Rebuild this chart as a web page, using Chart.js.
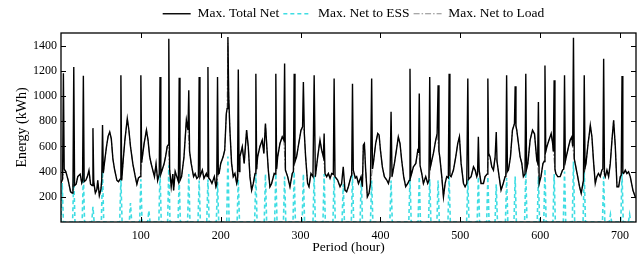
<!DOCTYPE html>
<html><head><meta charset="utf-8">
<script src="https://cdn.jsdelivr.net/npm/chart.js@4"></script>
<style>html,body{margin:0;padding:0;background:#fff}</style>
</head><body>
<canvas id="c" width="644" height="255" style="width:644px;height:255px;display:block"></canvas>
<script>
const seriesNames=['Max. Total Net','Max. Net to ESS','Max. Net to Load'];
const xTicks=[100,200,300,400,500,600,700];
const yTicks=[200,400,600,800,1000,1200,1400];

const totalHours=[0,2,3,4,6,9,12,14,15,16,17,19,21,24,26,27,28,29,31,33,35,37,39,40,41,43,45,46,48,50,51,52,53,55,57,59,61,63,65,67,70,72,74,75,76,78,80,83,85,87,90,93,95,97,99,100,101,102,104,107,109,111,113,115,117,119,121,123,124,125,127,129,131,133,134,135,136,138,140,141,143,145,147,148,149,151,154,157,159,160,161,163,166,168,170,172,173,174,177,179,182,183,184,185,187,189,192,194,195,196,197,198,200,203,205,207,208,209,210,211.5,213.6,215.7,217.8,220,221,222,223,224,227,229.4,232.4,234.5,236.6,238.7,240.8,243,244,245,246.2,249,252,254,256,258,259.6,261.6,263.7,267,268,269,270,271.3,274.2,277,279,280,281,283.8,286.7,289.6,291,292,293,295,297,300.5,302.5,303.5,304.7,306.3,308.8,310.5,313,315.5,317,318.5,321.4,324.3,326.4,328.5,329.5,330.6,332.7,334.8,336.9,339,341,342,343.1,346.4,349.4,351.4,353.4,355.6,357.7,359.8,363.1,364,365,366,368.5,370.2,372.5,375.7,377.4,378.6,379.9,381.5,383.6,385.7,387.5,389,390,391.1,394,396.6,398.3,400,402.4,404.9,407.9,410,412,413.3,414.5,417.5,420,422.4,424.5,426.6,429.1,431.6,434.2,436,437,438,441.3,444.3,446.8,447.8,448.6,449.6,451.7,453.8,456.7,459.2,460.7,461.7,462.7,466.3,469.2,471,472.2,473.3,474.3,476.8,478.9,481,483,485,486,487,488.5,491.4,494.3,496.8,498.9,501,504,506,508.1,509.4,510.5,513.5,516.5,518.6,520.6,521.6,522.6,523.6,526,529,531,533.5,534.5,535.5,537.3,539.4,541.5,543.6,545,546,548.6,551,553.7,556.1,557,558,559,560.3,562.8,565.3,567.8,568.7,569.7,570.7,572.8,574.9,577,579,581,582,583,584.6,587.4,590.4,592.9,595.8,596.8,597.8,598.8,601,603.5,605,606,607,608.4,611,613.8,615.6,616.5,617.5,618.5,619.6,622,625,628,629.5,630.5,631.5,632.7,635.5,637.6,639.7,640.7,641.7,642.7,643.8,647,649.3,651.4,653.5,654.2,655.2,656.2,657.4,660,661.6,662.8,664.8,667,669,671,673,675.2,677.3,678.5,679.5,680.5,681.5,683.6,685.7,687.8,689.9,692,694.1,696.2,698.3,700.4,701.5,702.5,703.5,704.5,706.6,708.6,710.7,712.8,716.1,719,720];
const totalValues=[310,340,1180,420,400,330,240,230,300,1230,290,300,360,380,310,330,1160,320,330,360,410,300,290,745,320,230,260,330,210,260,330,770,390,500,600,680,715,660,500,420,330,320,340,1165,330,500,650,820,730,600,460,360,300,350,360,1165,470,520,620,730,650,520,460,410,360,460,330,380,1150,380,420,460,520,600,610,1455,420,280,380,250,400,360,320,1145,330,360,517,808,729,1045,560,465,360,385,346,360,1150,360,412,346,385,360,1230,350,333,306,360,280,300,1150,380,385,465,517,570,860,900,1468,1000,729,465,360,385,306,330,1210,400,517,597,465,729,597,360,253,306,385,1177,420,517,597,650,544,781,570,412,280,306,385,380,1177,420,517,623,676,650,1257,412,360,280,385,400,1177,480,517,597,729,755,1111,702,517,306,280,385,360,1164,360,517,650,570,518,702,385,360,385,346,385,380,1138,360,333,280,306,438,253,240,280,360,370,1098,412,350,360,306,360,280,610,623,412,200,227,306,1138,420,465,623,702,690,570,438,360,333,306,360,874,360,465,570,676,623,490,360,280,306,330,1217,360,438,465,570,560,1019,450,385,306,360,306,330,1151,440,544,650,702,1085,560,517,360,200,306,360,350,1177,370,360,412,517,623,676,465,306,280,306,1138,340,360,438,412,360,380,676,412,306,306,360,380,1138,544,517,438,412,517,715,480,360,253,306,360,370,1164,400,412,517,729,781,1077,760,729,623,517,465,360,380,1177,420,465,650,729,700,490,470,953,306,360,465,480,1243,560,597,650,702,623,560,1125,420,385,360,360,412,420,1164,480,517,597,650,676,600,1463,500,465,360,280,227,306,330,1164,430,465,623,702,768,676,465,306,360,385,360,412,420,1296,380,360,412,360,465,650,808,597,280,280,360,370,1159,390,385,412,385,398,360,253,200,190];

const loadHours=[0,2,4,6,9,12,14,15,17,19,21,24,26,27,29,31,33,35,37,39,41,43,45,46,48,50,51,53,55,57,59,61,63,65,67,70,72,74,76,78,80,83,85,87,90,93,95,97,99,101,102,104,107,109,111,113,115,117,119,121,123,125,127,129,131,133,134,136,138,140,141,143,145,147,149,151,154,157,159,161,163,166,168,170,172,174,177,179,182,183,185,187,189,192,194,195,197,198,200,203,205,207,208,209,210,211.5,213.6,215.7,217.8,220,221,223,224,227,229.4,232.4,234.5,236.6,238.7,240.8,243,245,246.2,249,252,254,256,258,259.6,261.6,263.7,267,268,270,271.3,274.2,277,279,281,283.8,286.7,289.6,291,293,295,297,300.5,302.5,304.7,306.3,308.8,310.5,313,315.5,318.5,321.4,324.3,326.4,328.5,330.6,332.7,334.8,336.9,339,341,343.1,346.4,349.4,351.4,353.4,355.6,357.7,359.8,363.1,364,366,368.5,370.2,372.5,375.7,377.4,378.6,379.9,381.5,383.6,385.7,387.5,390,391.1,394,396.6,398.3,400,402.4,404.9,407.9,410,412,414.5,417.5,420,422.4,424.5,426.6,429.1,431.6,434.2,436,438,441.3,444.3,446.8,447.8,449.6,451.7,453.8,456.7,459.2,460.7,462.7,466.3,469.2,471,473.3,474.3,476.8,478.9,481,483,485,487,488.5,491.4,494.3,496.8,498.9,501,504,506,508.1,510.5,513.5,516.5,518.6,520.6,521.6,523.6,526,529,531,533.5,535.5,537.3,539.4,541.5,543.6,546,548.6,551,553.7,556.1,557,559,560.3,562.8,565.3,567.8,569.7,570.7,572.8,574.9,577,579,581,583,584.6,587.4,590.4,592.9,595.8,596.8,598.8,601,603.5,605,607,608.4,611,613.8,615.6,616.5,618.5,619.6,622,625,628,629.5,631.5,632.7,635.5,637.6,639.7,640.7,642.7,643.8,647,649.3,651.4,653.5,654.2,656.2,657.4,660,661.6,662.8,664.8,667,669,671,673,675.2,677.3,678.5,680.5,681.5,683.6,685.7,687.8,689.9,692,694.1,696.2,698.3,700.4,701.5,703.5,704.5,706.6,708.6,710.7,712.8,716.1,719,720];
const loadValues=[310,340,420,400,330,240,230,300,290,300,360,380,310,330,320,330,360,410,300,290,320,230,260,330,210,260,330,390,500,600,680,715,660,500,420,330,320,340,330,500,650,820,730,600,460,360,300,350,360,470,520,620,730,650,520,460,410,360,460,330,380,380,420,460,520,600,610,420,280,380,250,400,360,320,330,360,517,808,729,560,465,360,385,346,360,360,412,346,385,360,350,333,306,360,280,300,380,385,465,517,570,860,900,1420,1000,729,465,360,385,306,330,400,517,597,465,729,597,360,253,306,385,420,517,597,650,544,781,570,412,280,306,385,380,420,517,623,676,650,412,360,280,385,400,480,517,597,729,755,702,517,306,280,385,360,360,517,650,570,518,385,360,385,346,385,380,360,333,280,306,300,253,240,280,360,370,412,350,360,306,360,280,610,623,412,200,227,306,420,465,623,702,690,570,438,360,333,306,360,360,465,570,676,623,490,360,280,306,330,360,438,465,570,560,450,385,306,360,306,330,440,544,650,702,560,517,360,200,306,360,350,370,360,412,517,623,676,465,306,280,306,340,360,438,412,360,380,412,306,306,360,380,544,517,438,412,517,480,360,253,306,360,370,400,412,517,729,781,760,729,623,517,465,360,380,420,465,650,729,700,490,470,306,360,465,480,560,597,650,702,623,560,420,385,360,360,412,420,480,517,597,650,676,600,500,465,360,280,227,306,330,430,465,623,702,768,676,465,306,360,385,360,412,420,380,360,412,360,465,650,808,597,280,280,360,370,390,385,412,385,398,360,253,200,190];

const essHours=[0,1.5,3,4.5,14.5,16,17.5,26.5,28,29.5,38.5,40,41.5,50.5,52,53.5,73.5,75,76.5,85.5,87,88.5,98.5,100,101.5,108.5,110,111.5,122.5,124,125.5,133.5,135,136.5,146.5,148,149.5,158.5,160,161.5,171.5,173,174.5,182.5,184,185.5,194.5,196,197.5,207.5,209,210.5,220.5,222,223.5,242.5,244,245.5,254.5,256,257.5,267.5,269,270.5,278.5,280,281.5,290.5,292,293.5,302,303.5,305,315.5,317,318.5,328,329.5,331,340.5,342,343.5,351.9,353.4,354.9,363.5,365,366.5,374.5,376,377.5,387.5,389,390.5,411.8,413.3,414.8,435.5,437,438.5,447.1,448.6,450.1,460.2,461.7,463.2,470.7,472.2,473.7,484.5,486,487.5,507.9,509.4,510.9,521.1,522.6,524.1,533,534.5,536,543.5,545,546.5,556.5,558,559.5,567.2,568.7,570.2,580.5,582,583.5,596.3,597.8,599.3,604.5,606,607.5,616,617.5,619,629,630.5,632,640.2,641.7,643.2,653.7,655.2,656.7,678,679.5,681,686.5,688,689.5,701,702.5,704,710.5,712,713.5,720];
const essValues=[0,310,0,0,0,360,0,0,385,0,0,120,0,0,400,0,0,340,0,0,150,0,0,340,0,0,90,0,0,400,0,0,450,0,0,330,0,0,380,0,0,330,0,0,340,0,0,320,0,0,520,0,0,340,0,0,385,0,0,380,0,0,385,0,0,360,0,0,400,0,0,380,0,0,370,0,0,380,0,0,360,0,0,300,0,0,370,0,0,360,0,0,330,0,0,330,0,0,350,0,0,360,0,0,340,0,0,330,0,0,360,0,0,340,0,0,360,0,0,360,0,0,300,0,0,350,0,0,360,0,0,400,0,0,360,0,0,420,0,0,380,0,0,400,0,0,480,0,0,400,0,0,360,0,0,60,0,0,400,0,0,60,0,0];

function pts(xs,ys){return xs.map((h,i)=>({x:h,y:ys[i]}));}

const SERIF='"Liberation Serif","Times New Roman",serif';
Chart.defaults.font.family=SERIF;
Chart.defaults.color='#000';

const framePlugin={id:'frame',
  beforeUpdate(chart){
    const lg=chart.legend;
    if(lg&&!lg._extraPatched){const f=lg.fit;lg.fit=function(){f.call(this);this.height+=2.5;};lg._extraPatched=true;}
  },
  afterLayout(chart){
    const lg=chart.legend; if(lg){lg.left+=5;lg.right+=5;}
  },
  afterDatasetsDraw(chart){
  const {ctx,chartArea:a,scales:{x,y}}=chart;
  ctx.save();ctx.strokeStyle='#000';ctx.setLineDash([]);
  ctx.lineWidth=1.3;
  ctx.strokeRect(a.left,a.top,a.right-a.left,a.bottom-a.top);
  ctx.beginPath();ctx.lineWidth=1;
  xTicks.forEach(v=>{const p=Math.round(x.getPixelForValue(v))+0.5;
    ctx.moveTo(p,a.bottom);ctx.lineTo(p,a.bottom-5);ctx.moveTo(p,a.top);ctx.lineTo(p,a.top+5);});
  yTicks.forEach(v=>{const p=Math.round(y.getPixelForValue(v))+0.5;
    ctx.moveTo(a.left,p);ctx.lineTo(a.left+5,p);ctx.moveTo(a.right,p);ctx.lineTo(a.right-5,p);});
  ctx.stroke();ctx.restore();}};

new Chart(document.getElementById('c'),{
  type:'line',
  data:{datasets:[
    {label:seriesNames[0],data:pts(totalHours,totalValues),borderColor:'#000',borderWidth:1.4,pointRadius:0,tension:0},
    {label:seriesNames[1],data:pts(essHours,essValues),borderColor:'#3fdde3',borderWidth:1.6,borderDash:[4,3],pointRadius:0,tension:0},
    {label:seriesNames[2],data:pts(loadHours,loadValues),borderColor:'#8a8a8a',borderWidth:1.1,borderDash:[6,2,1.5,2],pointRadius:0,tension:0}
  ]},
  options:{
    responsive:false,animation:false,devicePixelRatio:1,
    parsing:false,
    layout:{padding:{left:0,right:8,top:3,bottom:0}},
    plugins:{
      legend:{display:true,position:'top',fullSize:false,
        labels:{usePointStyle:true,pointStyle:'line',pointStyleWidth:28,padding:4,color:'#000',font:{family:SERIF,size:13.5},
          generateLabels:chart=>chart.data.datasets.map((d,i)=>({text:d.label,strokeStyle:d.borderColor,fillStyle:d.borderColor,
            lineWidth:d.borderWidth,lineDash:d.borderDash||[],pointStyle:'line',datasetIndex:i,hidden:false,fontColor:'#000'}))}},
      tooltip:{enabled:false}
    },
    scales:{
      x:{type:'linear',min:0,max:720,
        afterBuildTicks:s=>{s.ticks=xTicks.map(v=>({value:v}));},
        afterFit:s=>{s.height=33;},
        grid:{display:false,drawTicks:false},border:{display:false},
        ticks:{padding:7,maxRotation:0,autoSkip:false,color:'#000',font:{family:SERIF,size:12},callback:v=>String(v)},
        title:{display:true,text:'Period (hour)',color:'#000',font:{family:SERIF,size:13.5,lineHeight:1.1},padding:{top:0,bottom:0}}},
      y:{type:'linear',min:0,max:1500,
        afterBuildTicks:s=>{s.ticks=yTicks.map(v=>({value:v}));},
        afterFit:s=>{s.width=61;},
        grid:{display:false,drawTicks:false},border:{display:false},
        ticks:{padding:4,color:'#000',font:{family:SERIF,size:12},callback:v=>String(v)},
        title:{display:true,text:'Energy (kWh)',color:'#000',font:{family:SERIF,size:14},padding:{top:14,bottom:0}}}
    }
  },
  plugins:[framePlugin]
});
</script>
</body></html>
